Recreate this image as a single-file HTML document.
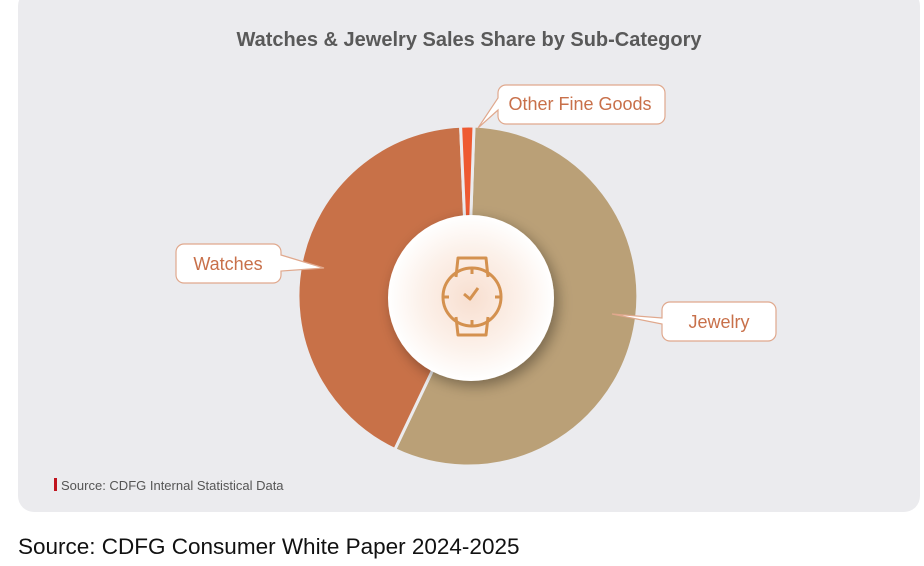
<!DOCTYPE html>
<html><head><meta charset="utf-8"><style>
html,body{margin:0;padding:0;background:#fff;width:924px;height:566px;overflow:hidden;font-family:"Liberation Sans",sans-serif}
</style></head><body>
<svg width="924" height="566" viewBox="0 0 924 566" xmlns="http://www.w3.org/2000/svg">
<defs>
<radialGradient id="cg" cx="50%" cy="50%" r="50%">
<stop offset="0" stop-color="#f8dfd0"/><stop offset="0.6" stop-color="#fcf1ea"/><stop offset="1" stop-color="#ffffff"/>
</radialGradient>
<filter id="sh" x="-30%" y="-30%" width="160%" height="160%"><feDropShadow dx="4" dy="5" stdDeviation="7" flood-color="#000" flood-opacity="0.35"/></filter>
</defs>
<rect x="18" y="-10" width="902" height="522" rx="16" fill="#ebebee"/>
<text x="469" y="46" text-anchor="middle" font-size="20" font-weight="bold" fill="#595959">Watches &amp; Jewelry Sales Share by Sub-Category</text>
<g stroke="#ebebee" stroke-width="3">
<path d="M468,296 L474,126.1 A170,170 0 1 1 394.8,449.5 Z" fill="#baa077"/>
<path d="M468,296 L394.8,449.5 A170,170 0 0 1 460.6,126.2 Z" fill="#c87148"/>
<path d="M468,296 L460.6,126.2 A170,170 0 0 1 474,126.1 Z" fill="#ee5a32"/>
</g>
<circle cx="471" cy="298" r="83" fill="url(#cg)" filter="url(#sh)"/>
<g fill="none" stroke="#d4914f" stroke-width="3" stroke-linejoin="round">
<path d="M456,277 L458,258 L486,258 L488,277"/>
<path d="M456,317 L458,335 L486,335 L488,317"/>
<circle cx="472" cy="297" r="29"/>
<path d="M464,294 L470,299 L478,288"/>
<path d="M472,269 v5 M472,320 v5 M444,297 h5 M495,297 h5"/>
</g>
<g fill="#fff" stroke="#e0a88d" stroke-width="1.2">
<path d="M506,85 h151 a8,8 0 0 1 8,8 v23 a8,8 0 0 1 -8,8 h-151 a8,8 0 0 1 -8,-8 v-6 L478,128 L498,98 v-5 a8,8 0 0 1 8,-8 Z"/>
<path d="M184,244 h89 a8,8 0 0 1 8,8 v3 L324,268 L281,271 v4 a8,8 0 0 1 -8,8 h-89 a8,8 0 0 1 -8,-8 v-23 a8,8 0 0 1 8,-8 Z"/>
<path d="M670,302 h98 a8,8 0 0 1 8,8 v23 a8,8 0 0 1 -8,8 h-98 a8,8 0 0 1 -8,-8 v-9 L612,314 L662,318 v-8 a8,8 0 0 1 8,-8 Z"/>
</g>
<g font-size="18" fill="#c8704a" text-anchor="middle">
<text x="580" y="110">Other Fine Goods</text>
<text x="228" y="270">Watches</text>
<text x="719" y="328">Jewelry</text>
</g>
<rect x="54" y="478" width="3" height="13" fill="#c0141e"/>
<text x="61" y="490" font-size="13" fill="#555">Source: CDFG Internal Statistical Data</text>
<text x="18" y="554" font-size="22.5" fill="#111">Source: CDFG Consumer White Paper 2024-2025</text>
</svg>
</body></html>
